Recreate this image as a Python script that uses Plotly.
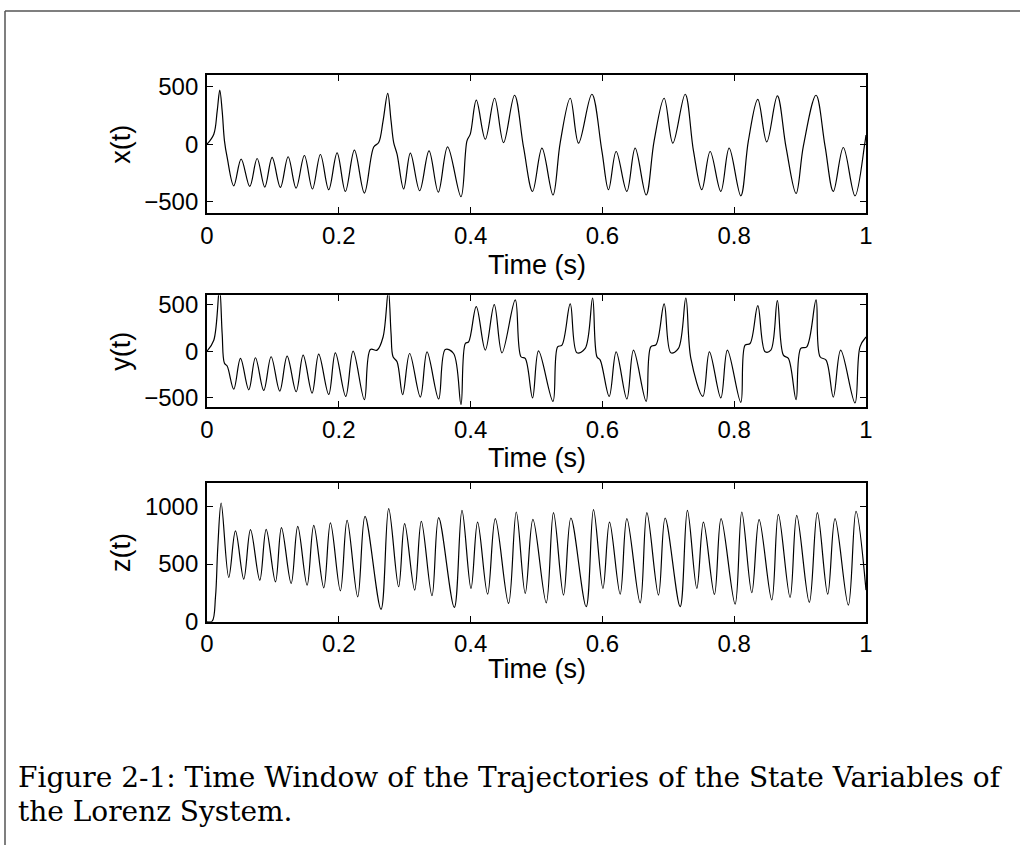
import plotly.graph_objects as go

# ---------------- data ----------------
x_t = [0.000, 0.0103, 0.0155, 0.0194, 0.023, 0.0265, 0.0306, 0.0406,
       0.0518, 0.0649, 0.0761, 0.0877, 0.0988, 0.1114, 0.1231, 0.1352, 0.1478, 0.160,
       0.1721, 0.1847, 0.1974, 0.210, 0.2237, 0.2388, 0.253, 0.2605, 0.2672, 0.2742,
       0.2793, 0.2833, 0.2884, 0.2984, 0.3086, 0.3227, 0.3369, 0.351, 0.3651, 0.3854,
       0.3945, 0.3995, 0.4087, 0.4223, 0.4364, 0.450, 0.4667, 0.4804, 0.494, 0.5083,
       0.525, 0.536, 0.5512, 0.5638, 0.584, 0.5992, 0.6093, 0.6209, 0.6371, 0.6497,
       0.6664, 0.6785, 0.6937, 0.7069, 0.7256, 0.7382, 0.7509, 0.7635, 0.7797, 0.7923,
       0.810, 0.8215, 0.8358, 0.8494, 0.8655, 0.8787, 0.8939, 0.905, 0.9242, 0.9378,
       0.9504, 0.9656, 0.9833, 0.998, 1.000]
x_v = [0, 87, 290, 470, 290, 29, -116, -363,
       -130, -368, -125, -374, -116, -377, -110, -383, -99, -391,
       -90, -397, -76, -412, -52, -426, -25, 14, 203, 443,
       203, 14, -87, -391, -78, -406, -58, -418, -23, -458,
       29, 87, 383, 43, 400, 14, 426, -29, -412, -35,
       -443, 14, 400, 9, 435, -58, -397, -64, -412, -35,
       -443, 29, 400, 9, 435, -58, -397, -64, -412, -35,
       -450, 29, 391, 20, 420, -29, -430, -15, 426, -15,
       -412, -29, -450, 0, 80]

y_t = [0.000, 0.0103, 0.019, 0.023, 0.0265, 0.0306, 0.0406, 0.0508, 0.0634, 0.0735,
       0.0861, 0.0973, 0.1104, 0.1216, 0.1353, 0.1459, 0.1595, 0.1695, 0.1847, 0.1948,
       0.2105, 0.2217, 0.2388, 0.2479, 0.2581, 0.2672, 0.2752, 0.2793, 0.2823, 0.2884,
       0.2969, 0.3075, 0.3237, 0.3339, 0.3515, 0.3616, 0.3742, 0.3854, 0.392, 0.397,
       0.4086, 0.4223, 0.4359, 0.4476, 0.4678, 0.4764, 0.4829, 0.494, 0.5031, 0.525,
       0.532, 0.5386, 0.5512, 0.5614, 0.5739, 0.5851, 0.5917, 0.5967, 0.6103, 0.6209,
       0.6371, 0.6472, 0.6664, 0.6734, 0.6815, 0.6937, 0.7039, 0.7154, 0.7266, 0.7342,
       0.7524, 0.7624, 0.7797, 0.7897, 0.810, 0.8165, 0.8241, 0.8358, 0.8469, 0.8556,
       0.8655, 0.8746, 0.8822, 0.8939, 0.901, 0.9101, 0.9242, 0.9303, 0.9394, 0.9504,
       0.9616, 0.9833, 0.9909, 1.000]
y_v = [0, 117, 680, 188, -131, -160, -408, -78, -415, -71,
       -422, -60, -429, -53, -436, -43, -450, -32, -465, -18,
       -486, 0, -521, 18, 11, 152, 650, 188, -60, -114,
       -468, -25, -493, -7, -514, 18, -25, -574, 82, 99,
       479, 11, 500, -18, 550, -60, -78, -503, 3, -539,
       46, 64, 507, -18, 29, 571, -60, -96, -486, -7,
       -514, 11, -539, 46, 71, 507, -18, 29, 571, -78,
       -486, -7, -503, 11, -550, 64, 82, 489, -7, 11,
       543, -43, -78, -521, 29, 46, 550, -60, -96, -493,
       11, -556, 46, 152]

z_t = [0.000, 0.0079, 0.0129, 0.0164, 0.0215, 0.033, 0.0432, 0.0558, 0.066, 0.0801,
       0.0898, 0.1039, 0.113, 0.1277, 0.1377, 0.1519, 0.162, 0.1772, 0.1873, 0.2024,
       0.2126, 0.2287, 0.2398, 0.2641, 0.2757, 0.2908, 0.2999, 0.3151, 0.3252, 0.3414,
       0.3515, 0.3753, 0.3869, 0.4006, 0.4106, 0.4258, 0.4375, 0.4576, 0.4693, 0.4829,
       0.4946, 0.5148, 0.5258, 0.541, 0.5522, 0.5754, 0.5865, 0.6008, 0.6108, 0.627,
       0.6371, 0.6573, 0.6675, 0.6851, 0.6952, 0.718, 0.729, 0.7433, 0.7533, 0.770,
       0.7801, 0.8014, 0.8115, 0.8267, 0.8378, 0.857, 0.867, 0.8848, 0.8949, 0.914,
       0.9262, 0.9419, 0.953, 0.9732, 0.9848, 1.000]
z_v = [0, 5, 216, 648, 1029, 384, 787, 369, 799, 360,
       801, 346, 816, 332, 827, 317, 836, 294, 856, 268,
       879, 216, 914, 107, 980, 303, 850, 274, 870, 225,
       902, 124, 965, 289, 864, 239, 894, 159, 951, 245,
       888, 164, 945, 231, 899, 130, 971, 289, 864, 239,
       894, 164, 945, 231, 899, 130, 965, 289, 864, 237,
       894, 153, 951, 251, 885, 188, 931, 211, 922, 168,
       945, 239, 894, 144, 957, 274]

time_ticks = [0, 0.2, 0.4, 0.6, 0.8, 1]
time_tick_text = ["0", "0.2", "0.4", "0.6", "0.8", "1"]
xy_ticks = [-500, 0, 500]
z_ticks = [0, 500, 1000]
panel_titles = ["x(t)", "y(t)", "z(t)"]
time_title = "Time (s)"
caption_1 = "Figure 2-1: Time Window of the Trajectories of the State Variables of"
caption_2 = "the Lorenz System."

# ---------------- figure ----------------
W, H = 1020, 845
ML, MR, MT, MB = 207, 154, 75, 223
PW, PH = W - ML - MR, H - MT - MB


def px2paper_x(px):
    return (px - ML) / PW


def px2paper_y(py):
    return 1 - (py - MT) / PH


fig = go.Figure()
series = [(x_t, x_v), (y_t, y_v), (z_t, z_v)]
for i, (tt, vv) in enumerate(series):
    suffix = "" if i == 0 else str(i + 1)
    fig.add_trace(go.Scatter(
        x=tt, y=vv, mode="lines",
        line=dict(color="black", width=1.2, shape="spline", smoothing=1.0),
        xaxis="x" + suffix, yaxis="y" + suffix, showlegend=False,
        hoverinfo="skip"))

tick_font = dict(family="Liberation Sans", size=24, color="black")
title_font = dict(family="Liberation Sans", size=27, color="black")

common = dict(showline=True, linecolor="black", linewidth=1.8, mirror="ticks",
              ticks="inside", ticklen=6, tickwidth=1, tickcolor="black",
              showgrid=False, zeroline=False, tickfont=tick_font)

# panel pixel boxes (top, bottom) and x-title centre rows
boxes = [(75.3, 213.0), (295.3, 407.0), (483.3, 621.7)]
time_title_rows = [265, 458, 669]
yranges = [[-600, 600], [-600, 600], [0, 1200]]
yticks = [xy_ticks, xy_ticks, z_ticks]

layout = dict(width=W, height=H, margin=dict(l=ML, r=MR, t=MT, b=MB),
              paper_bgcolor="white", plot_bgcolor="white", showlegend=False)

for i in range(3):
    suffix = "" if i == 0 else str(i + 1)
    top, bot = boxes[i]
    dom = [max(0, px2paper_y(bot)), min(1, px2paper_y(top))]
    layout["xaxis" + suffix] = dict(
        common, domain=[0, 1], range=[0, 1], anchor="y" + suffix,
        tickvals=time_ticks, ticktext=time_tick_text, ticklabelstandoff=0)
    layout["yaxis" + suffix] = dict(
        common, domain=dom, range=yranges[i], anchor="x" + suffix,
        tickvals=yticks[i], ticklabelstandoff=2,
        title=dict(text=panel_titles[i], font=title_font, standoff=6))

fig.update_layout(**layout)

for row in time_title_rows:
    fig.add_annotation(text=time_title, xref="paper", yref="paper",
                       x=0.5, y=px2paper_y(row), xanchor="center", yanchor="middle",
                       showarrow=False, font=title_font)

# page frame lines (document border)
frame_color = "#555555"
fig.add_shape(type="line", xref="paper", yref="paper",
              x0=px2paper_x(5), x1=px2paper_x(1020), y0=px2paper_y(11), y1=px2paper_y(11),
              line=dict(color=frame_color, width=1.5))
fig.add_shape(type="line", xref="paper", yref="paper",
              x0=px2paper_x(5), x1=px2paper_x(5), y0=px2paper_y(11), y1=px2paper_y(845),
              line=dict(color=frame_color, width=1.5))

cap_font = dict(family="DejaVu Serif", size=28, color="black")
fig.add_annotation(text=caption_1, xref="paper", yref="paper",
                   x=px2paper_x(16), y=px2paper_y(777), xanchor="left", yanchor="middle",
                   showarrow=False, font=cap_font)
fig.add_annotation(text=caption_2, xref="paper", yref="paper",
                   x=px2paper_x(16), y=px2paper_y(811), xanchor="left", yanchor="middle",
                   showarrow=False, font=cap_font)

fig.write_html("out.html")
